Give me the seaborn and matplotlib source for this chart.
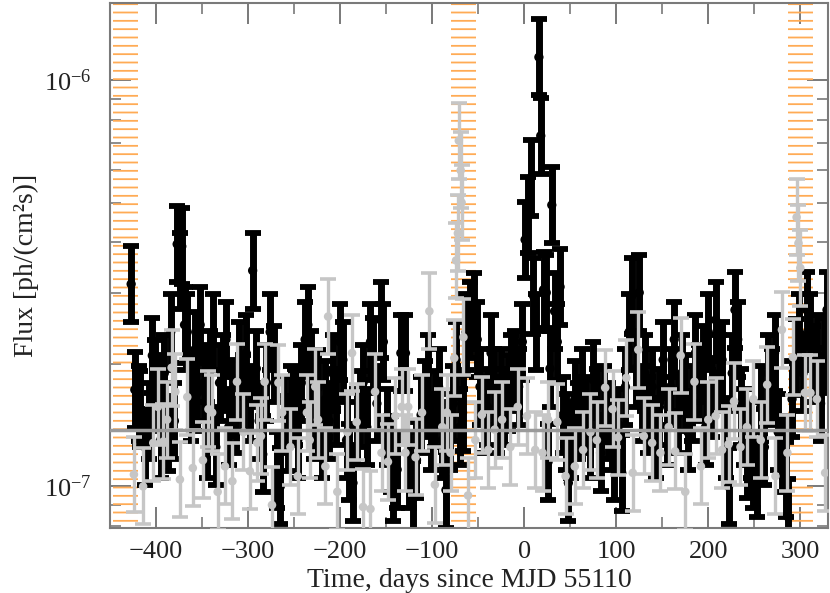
import numpy as np
import pandas as pd
import seaborn as sns
import matplotlib
matplotlib.use("Agg")
import matplotlib.pyplot as plt
from matplotlib.ticker import MultipleLocator, LogLocator, LogFormatterSciNotation, NullFormatter

# black light curve: days since MJD 55110, flux in units of 1e-7 ph/(cm^2 s)
black_days = [-427, -423, -419, -417, -412, -408, -404, -401, -398, -395, -391, -387, -384, -380,
              -377, -374, -372, -369, -366, -362, -358, -355, -352, -348, -345, -341, -338, -335,
              -331, -327, -324, -321, -317, -313, -310, -306, -302, -298, -295, -291, -288,
              -284, -280, -276, -272, -268, -265, -261, -257, -253, -249, -246, -242, -238, -235,
              -232, -228, -224, -220, -216, -212, -208, -204, -200, -197, -193, -190, -186, -182,
              -178, -175, -171, -167, -164, -160, -156, -153, -149, -145, -142, -138, -134,
              -129, -125, -121, -117, -112, -108, -105, -101, -97, -93, -89, -85, -81, -77, -74,
              -70, -67, -63, -59, -55, -51, -48, -44, -40, -36, -33, -29, -25, -22, -18, -14, -10,
              -6, -2, 1, 4, 7, 10, 13, 16, 18, 21, 24, 26, 28, 30, 33, 36, 39, 42, 45, 48, 51, 55,
              59, 63, 67, 71, 75, 79, 83, 87, 91, 95, 98, 102, 106, 110, 114, 117, 121, 125, 128,
              131, 135, 139, 143, 147, 151, 155, 159, 163, 167, 171, 175, 178, 182, 186, 190, 194,
              197, 200, 204, 208, 212, 215, 219, 222, 226, 229, 232, 236, 239, 242, 246, 249, 253,
              257, 261, 265, 269, 272, 276, 280, 284, 287, 291, 295, 299, 303, 307, 311, 314, 318,
              322, 326, 329]
black_flux = [3.15, 1.73, 1.6, 1.55, 1.25, 1.45, 2.1, 1.85, 1.7, 1.3, 1.9, 1.35, 2.4, 1.45,
              3.95, 3.4, 3.9, 2.5, 2.4, 1.6, 2.17, 1.7, 2.5, 1.8, 1.3, 1.95, 2.4, 1.25,
              1.8, 1.9, 2.3, 1.4, 1.65, 1.5, 2.05, 1.7, 2.13, 1.6, 3.4, 1.95, 1.45,
              1.2, 1.8, 2.4, 2.0, 1.1, 1.0, 1.5, 1.35, 1.6, 1.57, 1.3, 1.8, 2.3, 2.5,
              1.95, 1.45, 1.75, 1.3, 1.64, 1.45, 1.9, 1.57, 2.27, 2.05, 1.3, 1.15, 1.02, 1.4,
              1.55, 1.8, 1.4, 2.27, 2.1, 1.6, 2.57, 2.27, 1.4, 1.2, 1.02, 1.1, 2.13,
              2.13, 1.1, 0.93, 1.16, 1.5, 1.64, 1.9, 1.36, 1.55, 1.76, 1.3, 0.98, 1.36, 1.6, 2.05,
              1.4, 1.52, 2.4, 2.57, 2.7, 2.3, 1.76, 1.5, 1.57, 2.13, 1.76, 1.5, 1.76, 1.57, 1.7, 1.9, 1.95,
              1.76, 2.27, 4.05, 4.66, 5.74, 2.95, 2.4, 11.4, 7.3, 3.05, 3.0, 1.15, 1.95, 4.93, 2.7, 2.27, 3.1, 1.5, 1.36, 1.02, 1.3, 1.64,
              1.45, 1.76, 1.5, 1.3, 1.83, 1.57, 1.21, 1.6, 1.45, 1.36, 1.15, 1.4, 1.08, 1.76, 2.4, 2.95, 1.95, 3.0, 1.6,
              1.9, 1.5, 1.76, 1.3, 1.57, 2.05, 1.4, 1.76, 2.3, 1.5, 1.9, 1.7, 1.36, 1.6, 2.13, 1.8, 2.0,
              1.4, 2.4, 1.64, 2.57, 1.9, 2.05, 1.3, 1.0, 1.9, 2.72, 2.3, 1.57, 1.4, 1.16, 1.3, 1.1, 1.04,
              1.6, 1.25, 1.9, 1.76, 2.13, 1.36, 1.2, 1.04, 0.84, 1.64, 2.08, 2.4, 1.9, 2.72, 2.4, 2.0, 2.13,
              1.6, 2.1, 2.72]

# grey light curve
grey_days = [-424, -414, -403, -398, -392, -388, -383, -379, -374, -366, -360, -349, -343, -339,
             -333, -325, -317, -312, -305, -298, -290, -286, -282, -274, -267, -263, -254, -246,
             -236, -233, -227, -224, -216, -213, -203, -192, -187, -182, -175, -167, -162, -155,
             -148, -140, -133, -129, -126, -118, -111, -103, -97, -89, -84, -80, -76, -74, -72,
             -71, -69, -68, -66, -61, -53, -46, -39, -32, -24, -15, -7, 3, 12, 20, 26, 36, 45,
             55, 64, 72, 79, 88, 96, 102, 111, 118, 124, 130, 139, 148, 157, 164, 170, 175, 185,
             192, 200, 208, 215, 222, 228, 235, 242, 249, 257, 264, 273, 280, 286, 292, 296, 298,
             300, 305, 311, 318, 327]
grey_flux = [1.07, 1.0, 1.28, 1.57, 1.29, 1.46, 1.96, 1.71, 1.04, 1.66, 1.11, 1.16, 1.55, 1.52,
             0.97, 1.12, 1.03, 1.81, 1.36, 1.09, 1.28, 1.33, 1.81, 0.9, 1.8, 1.52, 1.25, 1.06,
             1.52, 1.3, 1.76, 1.46, 1.12, 2.62, 0.97, 1.36, 2.13, 1.44, 0.89, 0.88, 1.71, 1.21,
             1.15, 1.49, 1.57, 1.21, 1.57, 1.18, 1.52, 2.7, 1.01, 1.4, 1.52, 1.21, 2.07, 3.6, 4.2,
             7.1, 6.0, 5.0, 2.33, 0.95, 1.3, 1.5, 1.23, 1.38, 1.46, 1.25, 1.57, 1.49, 1.23, 1.21, 1.46, 1.44, 1.06,
             1.12, 1.23, 1.36, 1.3, 1.75, 1.55, 1.32, 1.85, 1.08, 2.17, 1.33, 1.28, 1.21, 1.4, 1.22, 2.1, 0.97, 1.81,
             1.12, 1.46, 1.49, 1.23, 1.27, 1.62, 1.25, 1.4, 1.64, 1.3, 1.78, 1.06, 2.43, 1.21, 2.08, 4.6, 3.97,
             3.45, 1.7, 1.7, 1.64, 1.08]

err_factor = 1.24          # error bars roughly +-24 % of the flux
mean_flux = 1.38           # horizontal grey line
bands = [(-447, -420), (-80, -52), (287, 314)]

scale = 1e-7
black = pd.DataFrame({"t": black_days, "f": np.array(black_flux) * scale})
grey = pd.DataFrame({"t": grey_days, "f": np.array(grey_flux) * scale})

sns.set_theme(style="ticks")
plt.rcParams["font.family"] = ["Liberation Serif", "DejaVu Serif"]
plt.rcParams["hatch.linewidth"] = 1.3

fig = plt.figure(figsize=(8.3, 5.93), dpi=100)
ax = fig.add_axes([0.1325, 0.1096, 0.865, 0.8854])

for x0, x1 in bands:
    ax.axvspan(x0, x1, facecolor="none", edgecolor="#ffab55", linewidth=0, hatch="--", zorder=1)

def draw(df, color, lw, cap, capw, ms, z):
    lo = df["f"] - df["f"] / err_factor
    hi = df["f"] * err_factor - df["f"]
    ax.errorbar(df["t"], df["f"], yerr=[lo, hi], fmt="none", ecolor=color,
                elinewidth=lw, capsize=cap, capthick=capw, zorder=z)
    sns.scatterplot(data=df, x="t", y="f", color=color, s=ms, edgecolor="none",
                    zorder=z + 0.5, ax=ax, legend=False)

draw(black, "black", 5.0, 6, 4.2, 45, 2)
draw(grey, "#c6c6c6", 2.4, 6, 2.6, 38, 4)

ax.axhline(mean_flux * scale, color="#9a9a9a", lw=2.5, zorder=6)

ax.set_yscale("log")
ax.set_xlim(-450, 330)
ax.set_ylim(7.9e-8, 1.55e-6)

ax.xaxis.set_major_locator(MultipleLocator(100))
ax.xaxis.set_minor_locator(MultipleLocator(50))
ax.yaxis.set_major_locator(LogLocator(base=10))
ax.yaxis.set_major_formatter(LogFormatterSciNotation())
ax.yaxis.set_minor_locator(LogLocator(base=10, subs=np.arange(2, 10)))
ax.yaxis.set_minor_formatter(NullFormatter())

ax.tick_params(which="both", direction="in", top=True, right=True, color="#6e6e6e",
               labelsize=19, labelcolor="#222222")
ax.tick_params(which="major", length=15, width=1.3, pad=9)
ax.tick_params(which="minor", length=8, width=1.1)
ax.tick_params(axis="y", which="major", pad=13)

for s in ax.spines.values():
    s.set_color("#7a7a7a")
    s.set_linewidth(1.5)

ax.set_xlabel("Time, days since MJD 55110", fontsize=20, color="#222222", labelpad=4)
ax.set_ylabel("Flux [ph/(cm²s)]", fontsize=20, color="#222222", labelpad=4)

fig.savefig("out.png", dpi=100)
